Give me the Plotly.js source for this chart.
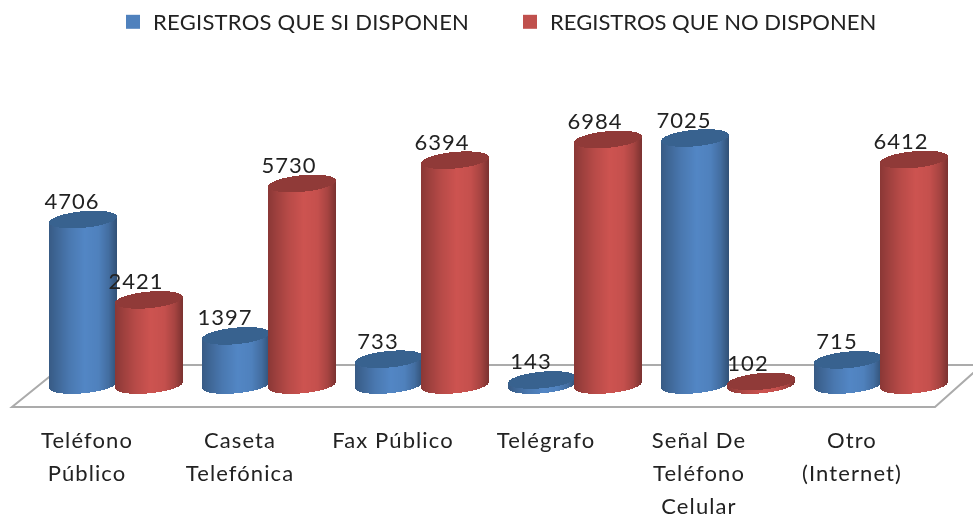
<!DOCTYPE html>
<html>
<head>
<meta charset="utf-8">
<script src="https://cdn.plot.ly/plotly-3.0.1.min.js"></script>
<style>
html,body{margin:0;padding:0;background:#fff;overflow:hidden}
#chart{width:973px;height:518px;filter:blur(0.55px)}
#chart .legend .legendtext{letter-spacing:0.25px}
#chart .legend2 .legendtext{letter-spacing:0.75px}
#chart .annotation-text{letter-spacing:1.1px}
#chart .textpoint text{letter-spacing:1.0px}
</style>
</head>
<body>
<div id="chart"></div>
<script>
// ---- data ----
const categories = ["Teléfono Público","Caseta Telefónica","Fax Público","Telégrafo","Señal De Teléfono Celular","Otro (Internet)"];
const labelLines = [["Teléfono","Público"],["Caseta","Telefónica"],["Fax Público"],["Telégrafo"],["Señal De","Teléfono","Celular"],["Otro","(Internet)"]];
const siValues = [4706,1397,733,143,7025,715];
const noValues = [2421,5730,6394,6984,102,6412];
const siName = "REGISTROS QUE SI DISPONEN";
const noName = "REGISTROS QUE NO DISPONEN";

// ---- geometry of the pseudo-3D scene ----
const W = 973, H = 518;
const pxPerCat = 153, x0px = 116, basePx = 385, pxPerUnit = 0.03516;
const halfBar = 34, seriesOffset = 33, capB = 8.3, capTilt = 3;
const dx = px => px / pxPerCat;
const dy = px => px / pxPerUnit;
const xData = px => (px - x0px) / pxPerCat;
const yData = py => (basePx - py) / pxPerUnit;

const shadeStops = [[-1,0.70],[-0.75,0.80],[-0.4,0.93],[0.05,1.04],[0.45,1.0],[0.75,0.85],[1,0.62]];
function shade(rgb,u){
  let f = 1;
  for(let i=0;i<shadeStops.length-1;i++){
    const a=shadeStops[i], b=shadeStops[i+1];
    if(u>=a[0]&&u<=b[0]){ f=a[1]+(b[1]-a[1])*(u-a[0])/(b[0]-a[0]); break; }
  }
  return 'rgb('+rgb.map(c=>Math.min(255,Math.round(c*f))).join(',')+')';
}

function cylinders(values, offset, bodyRgb, capColor){
  const x=[],base=[],y=[],color=[];
  values.forEach((v,i)=>{
    const c = i + offset;
    for(let p=-halfBar;p<halfBar;p+=1){
      const u=(p+0.5)/halfBar, s=Math.sqrt(Math.max(0,1-u*u));
      const h=v*pxPerUnit, t=capTilt*u, lo=t-capB*s;
      x.push(c+dx(p+0.5)); base.push(dy(lo)); y.push(dy(h)); color.push(shade(bodyRgb,u));
    }
    for(let p=-halfBar;p<halfBar;p+=1){
      const u=(p+0.5)/halfBar, s=Math.sqrt(Math.max(0,1-u*u));
      const h=v*pxPerUnit, t=capTilt*u;
      x.push(c+dx(p+0.5)); base.push(dy(h+t-capB*s)); y.push(dy(2*capB*s)); color.push(capColor);
    }
  });
  return {type:'bar',x,y,base,width:x.map(()=>dx(1.6)),
    marker:{color,line:{width:0}},showlegend:false,hoverinfo:'skip'};
}

const idx = categories.map((_,i)=>i);
const siOff = -seriesOffset/pxPerCat, noOff = seriesOffset/pxPerCat;
const siRgb=[79,129,189], noRgb=[197,80,77];

const traces = [
  {type:'bar',name:siName,x:idx.map(i=>i+siOff),y:siValues,width:dx(50),marker:{color:'#4F81BD'},showlegend:false,hoverinfo:'skip'},
  cylinders(siValues,siOff,siRgb,'#38628F'),
  {type:'bar',name:noName,x:idx.map(i=>i+noOff),y:noValues,width:dx(50),marker:{color:'#C0504D'},showlegend:false,hoverinfo:'skip'},
  cylinders(noValues,noOff,noRgb,'#903A38'),
  {type:'scatter',mode:'text',x:idx.map(i=>i+siOff-dx(11)),y:siValues.map(v=>v+dy(5)),text:siValues.map(String),
   textfont:{family:'Lato',size:22,color:'#222'},textposition:'top center',showlegend:false,hoverinfo:'skip',cliponaxis:false},
  {type:'scatter',mode:'text',x:idx.map(i=>i+noOff-dx(13)),y:noValues.map(v=>v+dy(5)),text:noValues.map(String),
   textfont:{family:'Lato',size:22,color:'#222'},textposition:'top center',showlegend:false,hoverinfo:'skip',cliponaxis:false},
  {type:'scatter',mode:'markers',name:siName,x:[null],y:[null],marker:{symbol:'square',size:14,color:'#4F81BD'},legend:'legend',hoverinfo:'skip'},
  {type:'scatter',mode:'markers',name:noName,x:[null],y:[null],marker:{symbol:'square',size:14,color:'#C0504D'},legend:'legend2',hoverinfo:'skip'}
];

const floorX = [12,935,982,64].map(xData);
const floorY = [407,407,365,365].map(yData);
const floorPath = 'M'+floorX.map((x,i)=>x+','+floorY[i]).join(' L')+' Z';

const lineYs = [439,472,505];
const annotations = [];
labelLines.forEach((lines,i)=>lines.forEach((t,j)=>annotations.push({
  text:t,x:i-29/pxPerCat,xref:'x',y:1-lineYs[j]/H,yref:'paper',xanchor:'center',yanchor:'middle',showarrow:false,
  width:150,height:26,borderpad:0,
  font:{family:'Lato',size:22,color:'#222'}
})));

const legendCommon = {orientation:'h',yanchor:'middle',y:1-22/H,xanchor:'left',bgcolor:'rgba(0,0,0,0)',
  font:{family:'Lato',size:22,color:'#222'},itemclick:false,itemdoubleclick:false,entrywidth:345,entrywidthmode:'pixels'};

Plotly.newPlot('chart',traces,{
  width:W,height:H,margin:{l:0,r:0,t:0,b:0},
  paper_bgcolor:'#fff',plot_bgcolor:'#fff',barmode:'overlay',bargap:0,
  xaxis:{range:[xData(0),xData(W)],visible:false,fixedrange:true},
  yaxis:{range:[yData(H),yData(0)],visible:false,fixedrange:true},
  shapes:[{type:'path',path:floorPath,xref:'x',yref:'y',layer:'below',line:{color:'#ABABAB',width:2},fillcolor:'#FFFFFF'}],
  annotations,
  legend:Object.assign({x:113/W},legendCommon),
  legend2:Object.assign({x:510/W},legendCommon)
},{displayModeBar:false,staticPlot:true});
</script>
</body>
</html>
